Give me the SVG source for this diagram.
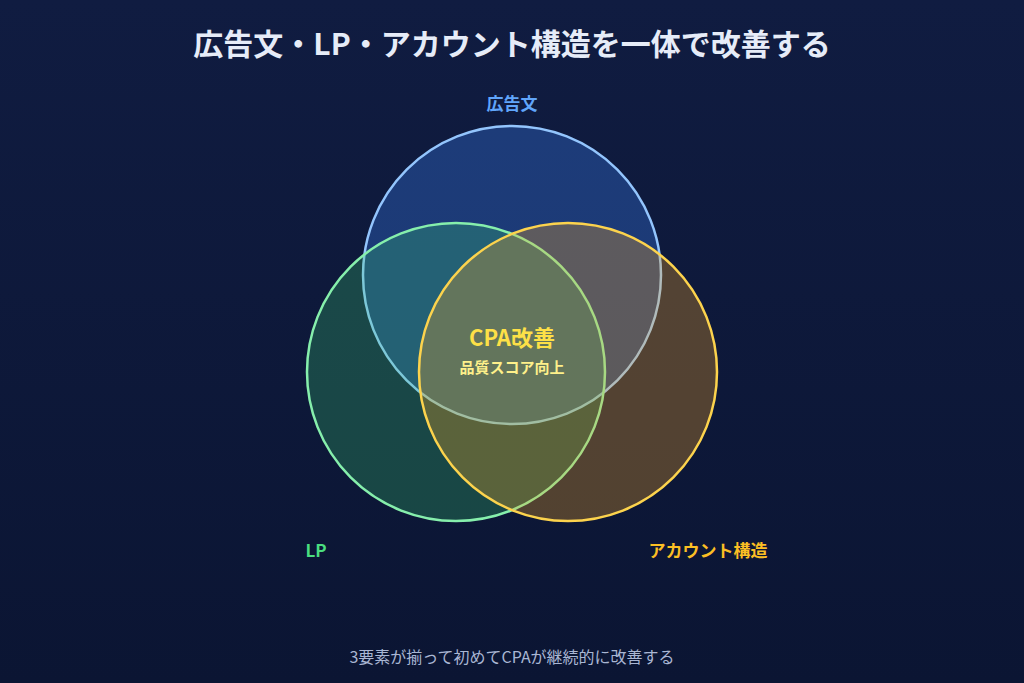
<svg xmlns="http://www.w3.org/2000/svg" width="1024" height="683" viewBox="0 0 1024 683">
<defs>
<linearGradient id="bg" x1="0" y1="0" x2="0" y2="1"><stop offset="0" stop-color="#101c41"/><stop offset="1" stop-color="#0b1533"/></linearGradient>
<style>
text{font-family:"Noto Sans CJK JP","Noto Sans",sans-serif;text-anchor:middle}
.c{stroke-width:2.5}
</style>
</defs>
<rect width="1024" height="683" fill="url(#bg)"/>
<text x="512" y="55" font-size="30" font-weight="bold" fill="#e6ecf8">広告文・LP・アカウント構造を一体で改善する</text>
<g id="ad"><circle class="c" cx="512" cy="275" r="149" fill="#3b82f6" fill-opacity="0.32" stroke="#93c5fd"/>
<text x="512" y="110" font-size="17" font-weight="bold" fill="#60a5fa">広告文</text></g>
<g id="lp"><circle class="c" cx="456" cy="372" r="149" fill="#3ed070" fill-opacity="0.26" stroke="#86efac"/>
<text x="316" y="557" font-size="17" font-weight="bold" fill="#4ade80">LP</text></g>
<g id="account"><circle class="c" cx="568" cy="372" r="149" fill="#f5a623" fill-opacity="0.3" stroke="#fcd34d"/>
<text x="708" y="557" font-size="17" font-weight="bold" fill="#fbbf24">アカウント構造</text></g>
<g id="center">
<text x="512" y="346" font-size="22" font-weight="bold" fill="#fde047">CPA改善</text>
<text x="512" y="373" font-size="15" font-weight="bold" fill="#fef08a">品質スコア向上</text></g>
<text x="512" y="663" font-size="16" fill="#a9b6d3">3要素が揃って初めてCPAが継続的に改善する</text>
</svg>
